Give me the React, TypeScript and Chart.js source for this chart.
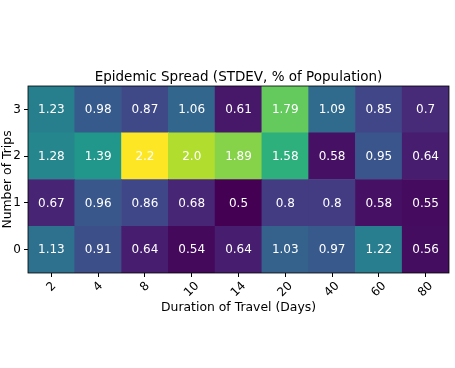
import React, { useEffect, useRef } from "react";
import { Chart, registerables } from "chart.js";

Chart.register(...registerables);

const durations = ["2", "4", "8", "10", "14", "20", "40", "60", "80"];
const tripRows = [0, 1, 2, 3];
const row0 = [1.13, 0.91, 0.64, 0.54, 0.64, 1.03, 0.97, 1.22, 0.56];
const row1 = [0.67, 0.96, 0.86, 0.68, 0.5, 0.8, 0.8, 0.58, 0.55];
const row2 = [1.28, 1.39, 2.2, 2.0, 1.89, 1.58, 0.58, 0.95, 0.64];
const row3 = [1.23, 0.98, 0.87, 1.06, 0.61, 1.79, 1.09, 0.85, 0.7];
const rowValues = [row0, row1, row2, row3];

const titleText = "Epidemic Spread (STDEV, % of Population)";
const xTitle = "Duration of Travel (Days)";
const yTitle = "Number of Trips";

const viridisStops = [
  "#440154", "#482475", "#414487", "#355f8d", "#2a788e", "#21918c",
  "#22a884", "#44bf70", "#7ad151", "#bddf26", "#fde725",
];

function hexToRgb(h: string) {
  return [parseInt(h.slice(1, 3), 16), parseInt(h.slice(3, 5), 16), parseInt(h.slice(5, 7), 16)];
}

function viridis(t: number) {
  const c = Math.max(0, Math.min(1, t)) * (viridisStops.length - 1);
  const i = Math.min(Math.floor(c), viridisStops.length - 2);
  const f = c - i;
  const a = hexToRgb(viridisStops[i]);
  const b = hexToRgb(viridisStops[i + 1]);
  const m = a.map((v, k) => Math.round(v + (b[k] - v) * f));
  return `rgb(${m[0]},${m[1]},${m[2]})`;
}

function fmt(v: number) {
  return Number.isInteger(v) ? v.toFixed(1) : String(v);
}

const FONT = "'DejaVu Sans', sans-serif";

export default function App() {
  const ref = useRef<HTMLCanvasElement>(null);
  useEffect(() => {
    document.body.style.margin = "0";
    const all = rowValues.flat();
    const vmin = Math.min(...all);
    const vmax = Math.max(...all);
    const datasets = tripRows.map((r) => ({
      label: String(r),
      data: rowValues[r].map(() => [r - 0.5, r + 0.5]),
      backgroundColor: rowValues[r].map((v) => viridis((v - vmin) / (vmax - vmin))),
      borderWidth: 0,
      barPercentage: 1,
      categoryPercentage: 1,
      grouped: false,
    }));

    const overlay = {
      id: "overlay",
      afterDatasetsDraw(chart: any) {
        const ctx = chart.ctx;
        ctx.save();
        ctx.fillStyle = "#ffffff";
        ctx.font = `12px ${FONT}`;
        ctx.textAlign = "center";
        ctx.textBaseline = "middle";
        chart.data.datasets.forEach((ds: any, di: number) => {
          const meta = chart.getDatasetMeta(di);
          meta.data.forEach((el: any, i: number) => {
            const cy = (el.y + el.base) / 2;
            ctx.fillText(fmt(rowValues[di][i]), el.x, cy + 0.5);
          });
        });
        const a = chart.chartArea;
        ctx.strokeStyle = "#000";
        ctx.lineWidth = 0.8;
        ctx.strokeRect(a.left, a.top, a.right - a.left, a.bottom - a.top);
        ctx.fillStyle = "#000";
        ctx.font = `13.5px ${FONT}`;
        ctx.textBaseline = "alphabetic";
        ctx.fillText(titleText, (a.left + a.right) / 2, a.top - 5);

        // rotated x tick labels, centred on ticks (matplotlib style)
        const xs = chart.scales.x;
        ctx.font = `12px ${FONT}`;
        const h = 12 * 0.95;
        const c45 = Math.cos(Math.PI / 4);
        durations.forEach((lab, i) => {
          const x = xs.getPixelForTick(i);
          const w = ctx.measureText(lab).width;
          const bh = (w + h) * c45;
          const top = a.bottom + 7;
          ctx.save();
          ctx.translate(x, top + bh / 2);
          ctx.rotate(-Math.PI / 4);
          ctx.textAlign = "center";
          ctx.textBaseline = "middle";
          ctx.fillText(lab, 0, 0);
          ctx.restore();
        });
        ctx.restore();
      },
    };

    const chart = new Chart(ref.current!, {
      type: "bar",
      data: { labels: durations, datasets },
      options: {
        animation: false,
        responsive: false,
        maintainAspectRatio: false,
        layout: { padding: { top: 86, right: 6, left: 0, bottom: 0 } },
        plugins: { legend: { display: false }, tooltip: { enabled: false } },
        scales: {
          x: {
            type: "category",
            offset: true,
            grid: { drawOnChartArea: false, drawTicks: true, tickLength: 4, color: "#000", offset: false },
            border: { display: false },
            ticks: {
              display: false,
              minRotation: 0,
              maxRotation: 0,
            },
            title: {
              display: true,
              text: xTitle,
              color: "#000",
              font: { family: FONT, size: 12.4 },
              padding: { top: 0, bottom: 53 },
            },
            afterFit: (s: any) => {
              s.height = 95;
            },
          },
          y: {
            type: "linear",
            min: -0.5,
            max: 3.5,
            grid: { drawOnChartArea: false, drawTicks: true, tickLength: 4, color: "#000" },
            border: { display: false },
            afterBuildTicks: (s: any) => {
              s.ticks = tripRows.map((v) => ({ value: v }));
            },
            ticks: {
              color: "#000",
              font: { family: FONT, size: 12 },
              padding: 3,
              callback: (v: any) => String(v),
            },
            title: {
              display: true,
              text: yTitle,
              color: "#000",
              font: { family: FONT, size: 12.4 },
              padding: { top: 0, bottom: 0 },
            },
            afterFit: (s: any) => {
              s.width = 28;
            },
          },
        },
      },
      plugins: [overlay],
    });
    return () => chart.destroy();
  }, []);
  return (
    <div style={{ position: "absolute", left: 0, top: 0, width: 455, height: 368, background: "#fff" }}>
      <canvas ref={ref} width={455} height={368} style={{ width: 455, height: 368 }} />
    </div>
  );
}
